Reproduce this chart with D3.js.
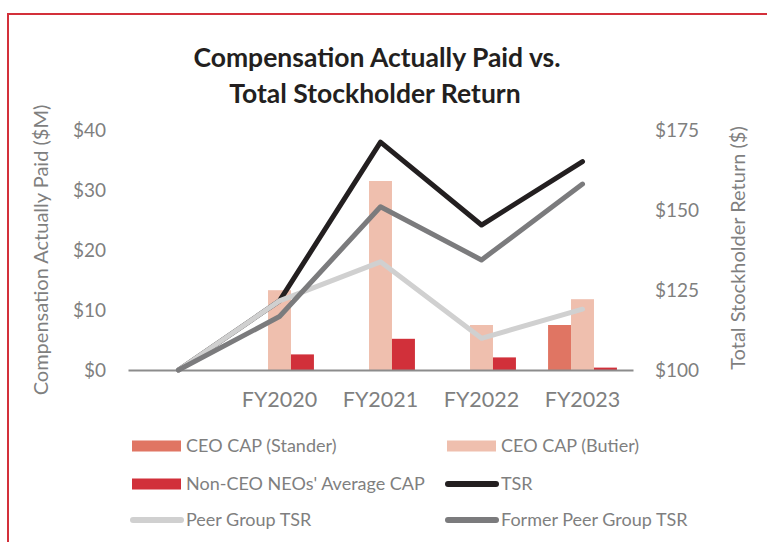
<!DOCTYPE html>
<html>
<head>
<meta charset="utf-8">
<script src="https://cdn.jsdelivr.net/npm/d3@7"></script>
<style>
  html, body { margin: 0; padding: 0; background: #ffffff; }
  svg { display: block; font-family: Lato, "Open Sans", sans-serif; }
</style>
</head>
<body>
<svg id="chart" width="767" height="542"></svg>
<script>
// Fiscal years; the leading blank slot is the $100 starting point of the TSR lines
const categories = ["", "FY2020", "FY2021", "FY2022", "FY2023"];

// Compensation actually paid ($M)
const ceoStander = [0, 0, 0, 0, 7.5];
const ceoButier  = [0, 13.3, 31.5, 7.5, 11.8];
const nonCeoNeos = [0, 2.6, 5.2, 2.1, 0.4];

// Value of a $100 investment ($)
const tsr        = [100, 121.6, 171.2, 145.3, 165.1];
const peerTsr    = [100, 121.6, 133.8, 109.9, 119.0];
const formerPeer = [100, 116.7, 151.0, 134.4, 158.1];

const leftTicks  = [0, 10, 20, 30, 40];
const rightTicks = [100, 125, 150, 175];

const barSeries = [
  { name: "CEO CAP (Stander)", values: ceoStander, color: "#e07563" },
  { name: "CEO CAP (Butier)", values: ceoButier, color: "#efbfae" },
  { name: "Non-CEO NEOs' Average CAP", values: nonCeoNeos, color: "#d1303a" }
];
const lineSeries = [
  { name: "TSR", values: tsr, color: "#231f20" },
  { name: "Peer Group TSR", values: peerTsr, color: "#d0d0d0" },
  { name: "Former Peer Group TSR", values: formerPeer, color: "#7b7b7d" }
];

const svg = d3.select("#chart");
const textGray = "#7f7f7f";
const font = "Lato, 'Open Sans', sans-serif";

// frame
svg.append("path")
  .attr("d", "M8,542 L8,14 L767,14")
  .attr("fill", "none")
  .attr("stroke", "#d3303a")
  .attr("stroke-width", 2);

// title
const title = svg.append("text")
  .attr("text-anchor", "middle")
  .attr("font-size", 26.5)
  .attr("font-weight", 700)
  .attr("fill", "#231f20");
title.append("tspan").attr("x", 377).attr("y", 67).text("Compensation Actually Paid vs.");
title.append("tspan").attr("x", 375).attr("y", 103).text("Total Stockholder Return");

const plotLeft = 128, plotRight = 633, plotTop = 130, plotBottom = 370;

const x = d3.scaleBand().domain(categories).range([plotLeft, plotRight]).padding(0);
const xInner = d3.scaleBand()
  .domain(barSeries.map(s => s.name))
  .range([0, x.bandwidth()])
  .paddingInner(0)
  .paddingOuter(0.7);
const yLeft = d3.scaleLinear().domain([0, 40]).range([plotBottom, plotTop]);
const yRight = d3.scaleLinear().domain([100, 175]).range([plotBottom, plotTop]);

// left axis
const gLeft = svg.append("g")
  .attr("transform", `translate(${plotLeft},0)`)
  .call(d3.axisLeft(yLeft).tickValues(leftTicks).tickSize(0).tickPadding(22).tickFormat(d => "$" + d));
gLeft.select(".domain").remove();
gLeft.selectAll("text").attr("font-size", 19).attr("fill", textGray).attr("font-family", font);

// right axis
const gRight = svg.append("g")
  .attr("transform", `translate(${plotRight},0)`)
  .call(d3.axisRight(yRight).tickValues(rightTicks).tickSize(0).tickPadding(22).tickFormat(d => "$" + d));
gRight.select(".domain").remove();
gRight.selectAll("text").attr("font-size", 19).attr("fill", textGray).attr("font-family", font);

// axis titles
svg.append("text")
  .attr("transform", "translate(48,250) rotate(-90)")
  .attr("text-anchor", "middle")
  .attr("font-size", 20)
  .attr("fill", textGray)
  .text("Compensation Actually Paid ($M)");
svg.append("text")
  .attr("transform", "translate(745,248) rotate(-90)")
  .attr("text-anchor", "middle")
  .attr("font-size", 20)
  .attr("fill", textGray)
  .text("Total Stockholder Return ($)");

// bars
barSeries.forEach(s => {
  svg.append("g").selectAll("rect")
    .data(categories.map((c, i) => ({ c, v: s.values[i] })).filter(d => d.v > 0))
    .join("rect")
    .attr("x", d => x(d.c) + xInner(s.name))
    .attr("width", xInner.bandwidth())
    .attr("y", d => yLeft(d.v))
    .attr("height", d => yLeft(0) - yLeft(d.v))
    .attr("fill", s.color);
});

// category axis
const gBottom = svg.append("g")
  .attr("transform", `translate(0,${plotBottom})`)
  .call(d3.axisBottom(x).tickSize(0).tickPadding(21.5));
gBottom.select(".domain").attr("stroke", "#8c8c8c").attr("stroke-width", 2);
gBottom.selectAll("text").attr("font-size", 21.5).attr("fill", textGray).attr("font-family", font);

// TSR lines
const line = d3.line()
  .x((d, i) => x(categories[i]) + x.bandwidth() / 2)
  .y(d => yRight(d));
lineSeries.forEach(s => {
  svg.append("path")
    .datum(s.values)
    .attr("d", line)
    .attr("fill", "none")
    .attr("stroke", s.color)
    .attr("stroke-width", 5)
    .attr("stroke-linejoin", "round")
    .attr("stroke-linecap", "round");
});

// legend
const legendItems = [
  { item: barSeries[0], type: "bar", x: 132, y: 446 },
  { item: barSeries[1], type: "bar", x: 447, y: 446 },
  { item: barSeries[2], type: "bar", x: 132, y: 484 },
  { item: lineSeries[0], type: "line", x: 447, y: 484 },
  { item: lineSeries[1], type: "line", x: 132, y: 520 },
  { item: lineSeries[2], type: "line", x: 447, y: 520 }
];
const lg = svg.append("g");
legendItems.forEach(l => {
  if (l.type === "bar") {
    lg.append("rect")
      .attr("x", l.x).attr("y", l.y - 5.5)
      .attr("width", 49).attr("height", 11)
      .attr("fill", l.item.color);
  } else {
    lg.append("line")
      .attr("x1", l.x + 1).attr("x2", l.x + 49)
      .attr("y1", l.y).attr("y2", l.y)
      .attr("stroke", l.item.color)
      .attr("stroke-width", 6)
      .attr("stroke-linecap", "round");
  }
  lg.append("text")
    .attr("x", l.x + 54)
    .attr("y", l.y)
    .attr("dy", "0.35em")
    .attr("font-size", 18)
    .attr("fill", textGray)
    .text(l.item.name);
});
</script>
</body>
</html>
